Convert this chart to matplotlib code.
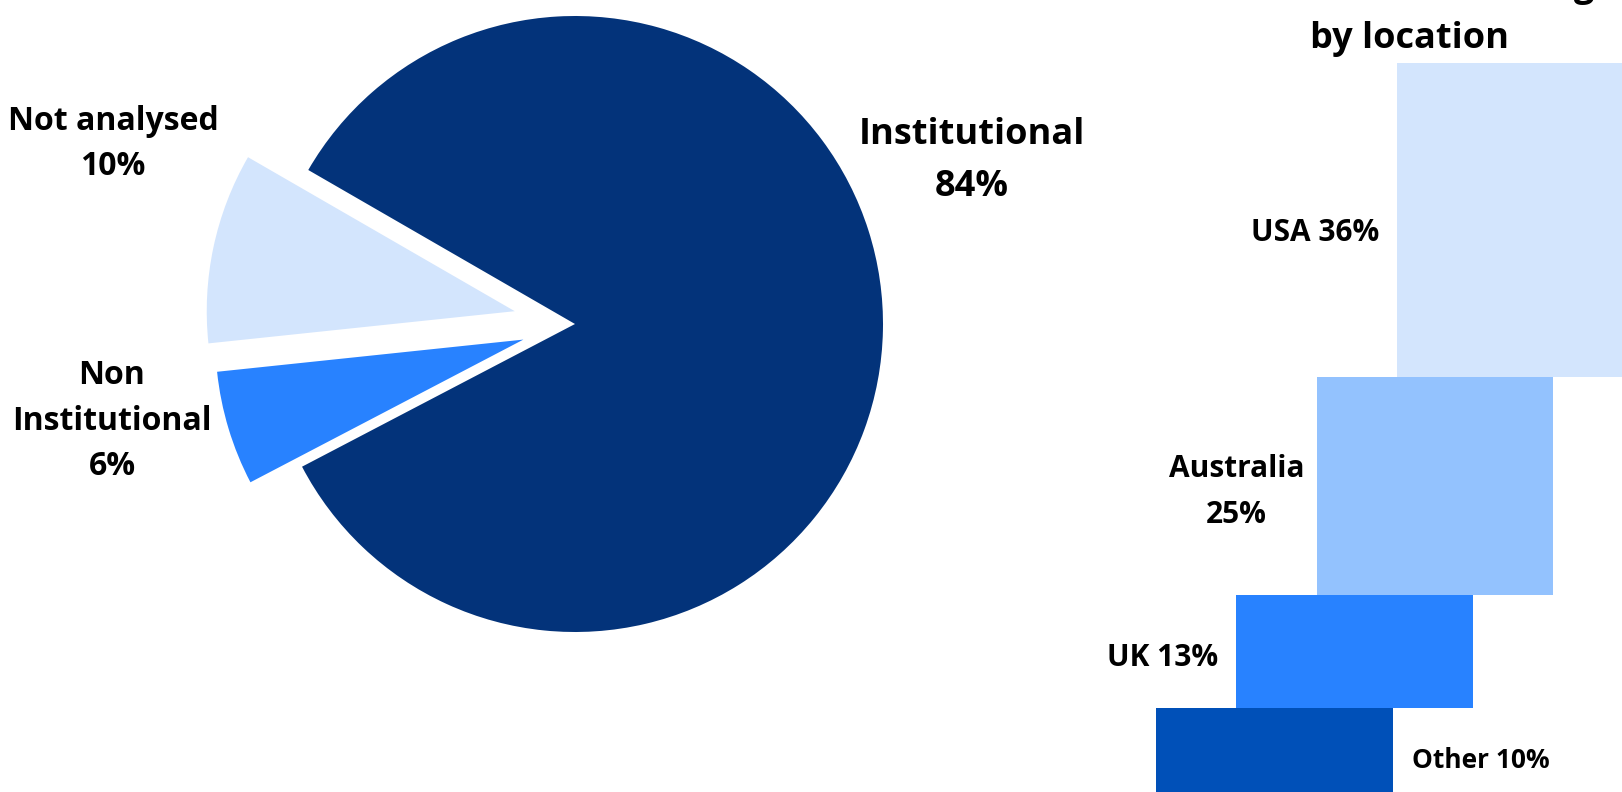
import matplotlib
matplotlib.use("Agg")
import matplotlib.pyplot as plt
import numpy as np

# Shareholder split (pie)
pie_labels = ["Not analysed", "Non\nInstitutional", "Institutional"]
pie_values = [10, 6, 84]
pie_colors = ["#D3E5FD", "#2882FF", "#03337A"]

# Institutional holding by location (stepped bars)
loc_labels = ["USA", "Australia", "UK", "Other"]
loc_values = [36, 25, 13, 10]
loc_colors = ["#D3E5FD", "#93C2FE", "#2882FF", "#0050B8"]

title_lines = ["Institutional holding", "by location"]

W, H = 1622, 792
DPI = 100
FONT = "Open Sans"

fig = plt.figure(figsize=(W / DPI, H / DPI), dpi=DPI)
fig.patch.set_facecolor("white")


def fx(x):
    return x / W


def fy(y):
    return 1 - y / H


# ---------------- pie ----------------
cx, cy, r_px = 575, 324, 308
L = 1.3
half = L * r_px
ax = fig.add_axes([fx(cx - half), fy(cy + half), 2 * half / W, 2 * half / H])
ax.pie(pie_values, colors=pie_colors, startangle=150, counterclock=True,
       explode=[0.2, 0.175, 0.0], radius=1.0,
       wedgeprops=dict(linewidth=0))
ax.set_xlim(-L, L)
ax.set_ylim(-L, L)
ax.set_aspect("equal")
ax.axis("off")

# x, y (pixels from top-left), font size, line spacing
label_style = {"Not analysed": (113, 144, 23, 1.5),
               "Non\nInstitutional": (112, 421, 23, 1.5),
               "Institutional": (972, 161, 26, 1.62)}
for name, val in zip(pie_labels, pie_values):
    x, y, fs, ls = label_style[name]
    fig.text(fx(x), fy(y), f"{name}\n{val}%", ha="center", va="center",
             fontsize=fs, fontweight="bold", family=FONT, color="black",
             linespacing=ls, multialignment="center")

# ---------------- stepped bars ----------------
top_px, px_per_pct = 62.7, 8.72
total = sum(loc_values)
ax_left_px, bar_w_px = 1156, 236.5
ax_w_px = 478
ax2_h_px = total * px_per_pct
ax2 = fig.add_axes([fx(ax_left_px), fy(top_px + ax2_h_px), ax_w_px / W, ax2_h_px / H])
ax2.set_xlim(0, ax_w_px / bar_w_px)
ax2.set_ylim(total, 0)
ax2.axis("off")

n = len(loc_values)
step = 0.34
bottoms = np.concatenate([[0], np.cumsum(loc_values)[:-1]])
lefts = [step * (n - 1 - i) for i in range(n)]
ax2.bar(lefts, loc_values, bottom=bottoms, width=1.0, align="edge",
        color=loc_colors, linewidth=0, clip_on=False)

gap = 18 / bar_w_px
for i, (name, val) in enumerate(zip(loc_labels, loc_values)):
    yc = bottoms[i] + val / 2
    if name == "Other":
        ax2.text(lefts[i] + 1.0 + gap * 1.1, yc + 1.0, f"{name} {val}%", ha="left",
                 va="center", fontsize=19, fontweight="bold", family=FONT)
    elif name == "Australia":
        ax2.text(lefts[i] - gap * 0.7, yc + 0.7, f"{name}\n{val}%", ha="right",
                 va="center", fontsize=21.5, fontweight="bold", family=FONT,
                 multialignment="center", linespacing=1.7)
    elif name == "USA":
        ax2.text(lefts[i] - gap, yc + 1.5, f"{name} {val}%", ha="right",
                 va="center", fontsize=21.5, fontweight="bold", family=FONT)
    else:
        ax2.text(lefts[i] - gap, yc + 0.8, f"{name} {val}%", ha="right",
                 va="center", fontsize=21.5, fontweight="bold", family=FONT)

# title, first line runs off the top edge
fig.text(fx(1409), fy(48), title_lines[1], ha="center", va="baseline",
         fontsize=26, fontweight="bold", family=FONT)
fig.text(fx(1409), fy(-4), title_lines[0], ha="center", va="baseline",
         fontsize=26, fontweight="bold", family=FONT)

fig.savefig("out.png", dpi=DPI, facecolor="white")
